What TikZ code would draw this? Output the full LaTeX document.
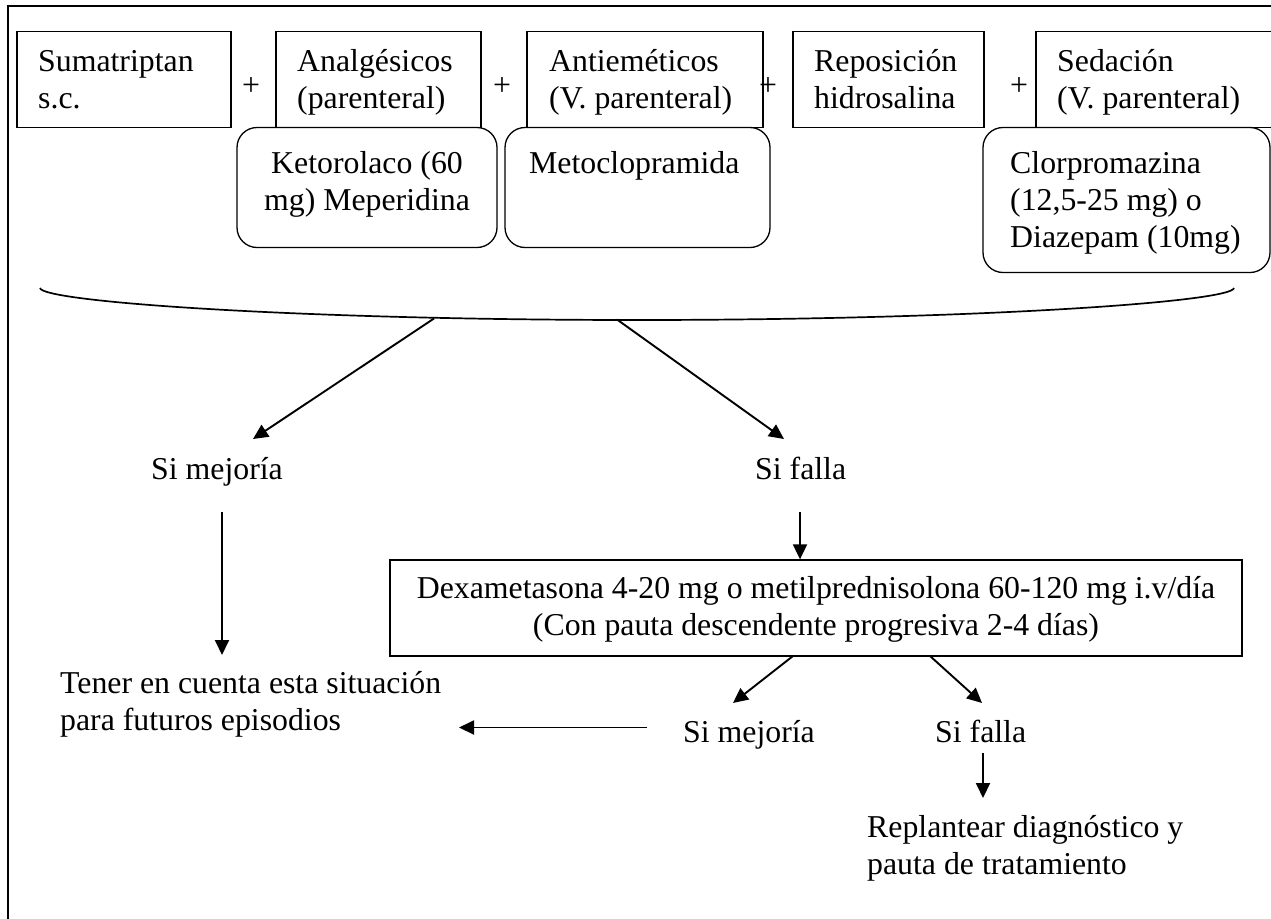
\documentclass[tikz,border=0pt]{standalone}
\usepackage{fontspec}
\setmainfont{Liberation Serif}
\usetikzlibrary{arrows.meta}
\newcommand{\myleft}[1]{\begin{tabular}[t]{@{}l@{}}#1\end{tabular}}
\newcommand{\mycent}[1]{\begin{tabular}[t]{@{}c@{}}#1\end{tabular}}
\begin{document}
\begin{tikzpicture}[x=1pt,y=-1pt,
  txt/.style={inner sep=0pt, font=\fontsize{31.8}{37}\selectfont},
  box/.style={draw, line width=1.3pt, inner sep=0pt, rectangle},
  rbox/.style={draw, line width=1.3pt, inner sep=0pt, rectangle, rounded corners=20pt},
  arr/.style={line width=1.9pt, -{Triangle[length=15pt,width=14pt]}},
]
\useasboundingbox (0,0) rectangle (1271,918);
\clip (0,0) rectangle (1271,918);
% outer frame (left and top visible)
\draw[line width=1.2pt] (8,930) -- (8,6) -- (1290,6);

% top boxes
\node[box, minimum width=214pt, minimum height=96pt] (sum) at (124,79.5) {};
\node[box, minimum width=205pt, minimum height=96pt] (ana) at (378.5,79.5) {};
\node[box, minimum width=236pt, minimum height=96pt] (ant) at (645,79.5) {};
\node[box, minimum width=191pt, minimum height=96pt] (rep) at (888.5,79.5) {};
\node[box, minimum width=254pt, minimum height=96pt] (sed) at (1163,79.5) {};

\node[txt, anchor=base west] (tsum) at (38,71) {\myleft{Sumatriptan\\ s.c.}};
\node[txt, anchor=base west] (tana) at (297,71) {\myleft{Analgésicos\\ (parenteral)}};
\node[txt, anchor=base west] (tant) at (549,71) {\myleft{Antieméticos\\ (V. parenteral)}};
\node[txt, anchor=base west] (trep) at (814,71) {\myleft{Reposición\\ hidrosalina}};
\node[txt, anchor=base west] (tsed) at (1057,71) {\myleft{Sedación\\ (V. parenteral)}};

% plus signs
\node[txt, anchor=base] (p1) at (251,95) {+};
\node[txt, anchor=base] (p2) at (502,95) {+};
\node[txt, anchor=base] (p3) at (768,95) {+};
\node[txt, anchor=base] (p4) at (1019,95) {+};

% rounded boxes
\node[rbox, minimum width=260pt, minimum height=120pt] (ket) at (367,187.5) {};
\node[rbox, minimum width=265pt, minimum height=120pt] (met) at (637.5,187.5) {};
\node[rbox, minimum width=287pt, minimum height=145pt] (clo) at (1126.5,200) {};

\node[txt, anchor=base] (tket) at (367,173) {\mycent{Ketorolaco (60\\ mg) Meperidina}};
\node[txt, anchor=base west] (tmet) at (529,173) {Metoclopramida};
\node[txt, anchor=base west] (tclo) at (1010,173) {\myleft{Clorpromazina\\ (12,5-25 mg) o\\ Diazepam (10mg)}};

% brace
\draw[line width=1.7pt] (40,288) .. controls (42,302) and (300,320) .. (637,320)
      .. controls (974,320) and (1232,302) .. (1234,288);
\coordinate (bl) at (434,318.5);
\coordinate (br) at (617,319.5);

% second level
\node[txt, anchor=base west] (sm1) at (151,479) {Si mejoría};
\node[txt, anchor=base west] (sf1) at (755,479) {Si falla};
\coordinate (sm1top) at (253,439);
\coordinate (sf1top) at (784,439);
\draw[arr] (bl) -- (sm1top);
\draw[arr] (br) -- (sf1top);

% dexametasona box
\node[box, minimum width=852pt, minimum height=96pt] (dex) at (816,608) {};
\node[txt, anchor=base] (tdex) at (816,598) {\mycent{Dexametasona 4-20 mg o metilprednisolona 60-120 mg i.v/día\\ (Con pauta descendente progresiva 2-4 días)}};

\coordinate (sf1bot) at (800,512);
\draw[arr] (sf1bot) -- (sf1bot |- dex.north);

% left branch
\node[txt, anchor=base west] (ten) at (60,693) {\myleft{Tener en cuenta esta situación\\ para futuros episodios}};
\coordinate (sm1bot) at (222,512);
\coordinate (tentop) at (222,655);
\draw[arr] (sm1bot) -- (tentop);

% third level
\node[txt, anchor=base west] (sm2) at (683,742) {Si mejoría};
\node[txt, anchor=base west] (sf2) at (935,742) {Si falla};
\coordinate (dexl) at (793,656);
\coordinate (dexr) at (930,656);
\coordinate (sm2top) at (733,703);
\coordinate (sf2top) at (982,703);
\draw[arr] (dexl) -- (sm2top);
\draw[arr] (dexr) -- (sf2top);

\coordinate (sm2left) at (647,727.5);
\coordinate (tenright) at (459,727.5);
\draw[arr] (sm2left) -- (tenright);

\node[txt, anchor=base west] (rep2) at (867,837) {\myleft{Replantear diagnóstico y\\ pauta de tratamiento}};
\coordinate (sf2bot) at (983,753);
\coordinate (reptop) at (983,798);
\draw[arr] (sf2bot) -- (reptop);
\end{tikzpicture}
\end{document}
